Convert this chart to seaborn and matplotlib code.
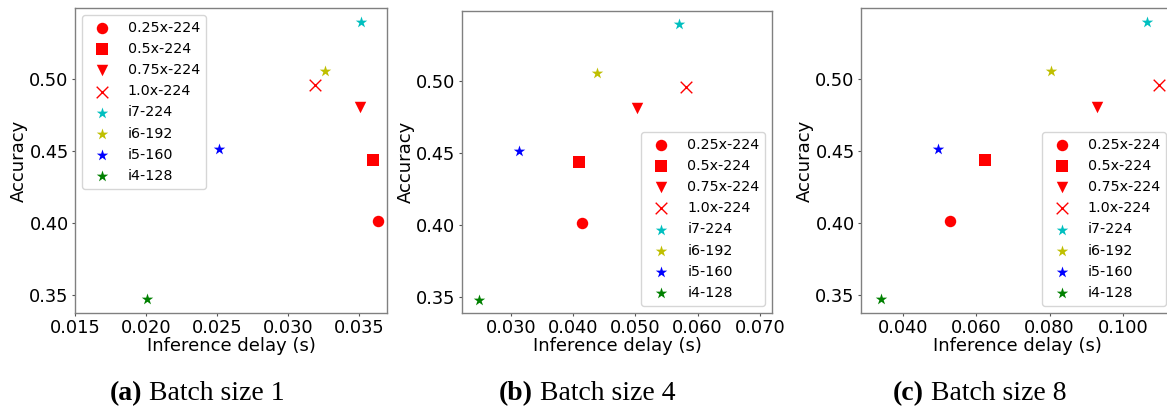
import matplotlib
matplotlib.use("Agg")
import matplotlib.pyplot as plt
from matplotlib.ticker import FormatStrFormatter, MultipleLocator
import seaborn as sns

sns.set_theme(style="white", color_codes=False)
plt.rcParams["font.family"] = ["DejaVu Sans"]
plt.rcParams["text.color"] = "black"
plt.rcParams["axes.labelcolor"] = "black"
plt.rcParams["xtick.color"] = "black"
plt.rcParams["ytick.color"] = "black"

# Model variants, marker styles and colours
models = ["0.25x-224", "0.5x-224", "0.75x-224", "1.0x-224",
          "i7-224", "i6-192", "i5-160", "i4-128"]
markers = ["o", "s", "v", "x", "*", "*", "*", "*"]
colors = ["#ff0000", "#ff0000", "#ff0000", "#ff0000",
          "#00bfbf", "#bfbf00", "#0000ff", "#008000"]

# Top-1 accuracy of each model
accuracy = [0.4016, 0.4437, 0.4810, 0.4958, 0.5398, 0.5058, 0.4514, 0.3474]

# Inference delay (s) per batch size
delay_bs1 = [0.03634, 0.03600, 0.03507, 0.03190, 0.03514, 0.03263, 0.02512, 0.02005]
delay_bs4 = [0.04150, 0.04090, 0.05020, 0.05810, 0.05700, 0.04380, 0.03130, 0.02480]
delay_bs8 = [0.05280, 0.06240, 0.09300, 0.10990, 0.10660, 0.08040, 0.04960, 0.03390]

captions = [("(a)", " Batch size 1"), ("(b)", " Batch size 4"), ("(c)", " Batch size 8")]

fig = plt.figure(figsize=(11.67, 4.09), dpi=100)
W, H = 1167.0, 409.0

def px_axes(left, right, top, bottom):
    return fig.add_axes([left / W, (H - bottom) / H, (right - left) / W, (bottom - top) / H])

axes = [
    px_axes(75, 387, 8, 313),
    px_axes(461.7, 772.3, 10.7, 312.7),
    px_axes(861, 1173, 8.3, 312.7),
]
delays = [delay_bs1, delay_bs4, delay_bs8]
xlims = [(0.015, 0.03697), (0.0221, 0.0720), (0.0285, 0.1137)]
ylims = [(0.3377, 0.5495), (0.3389, 0.5489), (0.3379, 0.5493)]
xsteps = [0.005, 0.010, 0.020]
legend_locs = ["upper left", "lower right", "lower right"]

for ax, delay, xl, yl, step, loc in zip(axes, delays, xlims, ylims, xsteps, legend_locs):
    for name, mk, col, x, y in zip(models, markers, colors, delay, accuracy):
        if mk == "x":
            kw = dict(s=70, linewidth=1.0)
        elif mk == "*":
            kw = dict(s=75, linewidth=0)
        else:
            kw = dict(s=68, linewidth=0)
        sns.scatterplot(x=[x], y=[y], marker=mk, color=col, label=name, ax=ax, **kw)
    ax.set_xlim(*xl)
    ax.set_ylim(*yl)
    ax.xaxis.set_major_locator(MultipleLocator(step))
    ax.xaxis.set_major_formatter(FormatStrFormatter("%.3f"))
    ax.set_yticks([0.35, 0.40, 0.45, 0.50])
    ax.yaxis.set_major_formatter(FormatStrFormatter("%.2f"))
    ax.tick_params(axis="both", labelsize=12.75, length=2, width=0.8,
                   bottom=True, left=True, color="#555555", pad=2.5)
    ax.set_xlabel("Inference delay (s)", fontsize=13, labelpad=0)
    ax.set_ylabel("Accuracy", fontsize=13, labelpad=1)
    for sp in ax.spines.values():
        sp.set_color("#808080")
        sp.set_linewidth(1.0)
    ax.legend(loc=loc, fontsize=10.3, labelspacing=0.5, handletextpad=0.8,
              borderaxespad=0.5, frameon=True, framealpha=0.8, edgecolor="#cccccc")

# Subfigure captions: bold tag followed by regular text, centred in each third
fig.canvas.draw()
renderer = fig.canvas.get_renderer()
centers = [197, 587, 980]
for (tag, rest), cx in zip(captions, centers):
    t1 = fig.text(0, 9 / H, tag, fontsize=20, fontweight="bold",
                  family="Liberation Serif", ha="left", va="baseline")
    t2 = fig.text(0, 9 / H, rest, fontsize=20,
                  family="Liberation Serif", ha="left", va="baseline")
    w1 = t1.get_window_extent(renderer).width
    w2 = t2.get_window_extent(renderer).width
    x0 = cx - (w1 + w2) / 2
    t1.set_x(x0 / W)
    t2.set_x((x0 + w1) / W)

fig.savefig("out.png", dpi=100, facecolor="white")
